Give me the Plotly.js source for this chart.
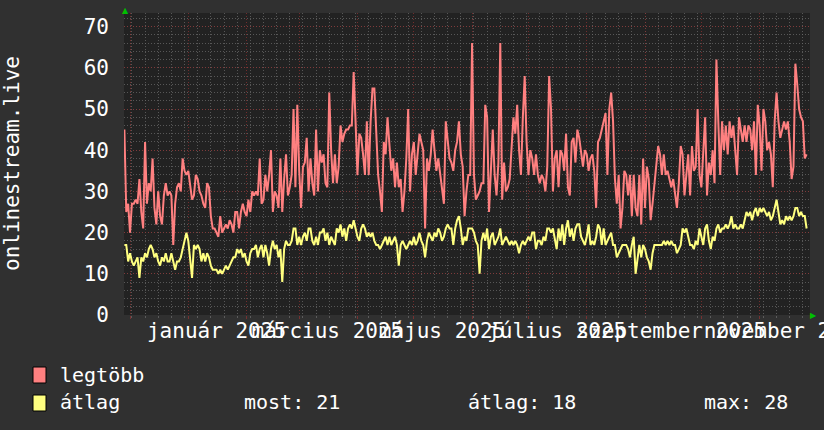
<!DOCTYPE html>
<html><head><meta charset="utf-8">
<script src="https://cdn.plot.ly/plotly-3.0.1.min.js"></script>
<style>html,body{margin:0;padding:0;background:#303030;}#chart{width:824px;height:430px;}</style>
</head><body><div id="chart"></div>
<script>
// ---- data ----
const startDate = '2024-11-28';
const legtobb = [
45,25,27,20,27,27,28,27, 33,25,21,42,27,32,30,38, 26,22,30,24,22,29,32,29, 30,29,17,27,31,32,30,38,
35,34,35,32,28,29,34,33, 30,29,27,26,32,31,24,21, 21,20,19,24,20,21,22,21, 23,22,20,25,25,21,25,27,
25,24,28,25,30,29,30,29, 38,27,28,34,30,34,40,25, 30,29,26,38,25,33,39,29, 31,34,50,31,51,35,26,36,
37,43,30,38,32,29,45,30, 40,37,39,32,31,54,40,32, 39,32,36,46,42,44,45,45, 46,46,59,47,34,44,43,39,
34,47,34,47,55,55,42,34, 30,25,42,39,48,42,35,38, 31,37,31,33,25,30,38,50, 30,39,42,34,40,44,42,40,
21,38,35,39,45,40,35,38, 34,31,27,47,43,38,37,35, 40,42,47,39,36,24,30,34,
34,66,34,28,29,30,32,32, 51,48,25,35,45,34,29,37, 66,28,37,30,31,33,42,48, 44,51,40,34,48,58,42,34,
40,38,34,39,34,32,34,33, 30,36,58,50,30,38,40,31, 40,39,35,44,31,29,42,43, 37,45,43,39,36,40,39,35,
38,39,35,26,42,43,45,47, 49,34,50,54,47,33,27,34, 21,26,35,34,29,34,24,34, 26,24,34,22,38,26,36,33,
23,27,32,37,41,39,34,39, 34,35,33,31,33,29,26,32, 41,39,29,34,39,29,41,35, 36,50,34,31,39,48,29,37,
34,40,32,62,47,34,47,40, 46,39,47,43,46,40,34,48, 45,42,46,42,46,45,40,47, 34,51,46,35,50,47,40,42,
39,31,47,54,47,43,45,47, 45,47,42,33,36,61,56,50, 48,47,38,39
];
const atlag = [
17,17,13,15,13,12,13,14, 9,14,13,15,14,16,17,16, 14,15,13,12,14,13,15,13, 13,15,13,11,13,13,14,16,
18,20,18,13,9,17,16,17, 16,13,15,13,15,14,12,11, 11,11,10,11,10,11,12,11, 12,13,14,14,16,15,16,14,
15,13,12,15,16,16,17,14, 16,17,14,17,15,12,16,18, 16,17,14,16,8,16,18,17, 17,18,21,21,17,19,17,19,
20,18,21,21,18,17,19,17, 20,20,21,18,20,17,19,18, 17,21,20,22,19,21,18,21, 22,21,23,21,19,18,21,22,
21,19,20,19,20,18,17,17, 16,17,18,19,17,19,17,18, 19,17,12,17,18,17,16,17, 18,17,19,17,18,20,18,17,
14,18,20,19,18,20,19,21, 20,18,19,21,22,21,21,17, 21,23,24,21,17,19,18,21,
21,21,20,18,17,10,18,20, 18,21,16,19,20,17,18,19, 21,17,18,19,18,17,18,17, 18,17,15,17,18,17,18,19,
18,20,20,16,18,18,17,19, 18,21,21,20,21,18,16,21, 18,22,17,21,23,19,21,18, 21,22,22,19,18,17,19,22,
17,18,17,19,22,21,17,21, 17,18,19,20,17,17,14,15, 16,17,17,17,16,14,17,19, 10,14,17,14,17,16,14,13,
11,15,17,17,17,17,17,18, 17,18,17,18,17,17,15,16, 17,21,20,21,19,17,17,16, 18,17,21,19,17,21,22,18,
16,19,18,21,22,20,21,21, 22,21,22,24,21,22,21,21, 22,21,23,25,24,25,23,25, 26,24,26,25,26,25,24,25,
23,24,26,28,25,22,23,22, 24,23,24,23,24,26,26,24, 25,24,24,21
];
const seriesNames = ['legtöbb', 'átlag'];
const seriesColors = ['#ff8080', '#ffff80'];
const monthStarts = ['2024-12-01','2025-01-01','2025-02-01','2025-03-01','2025-04-01','2025-05-01',
  '2025-06-01','2025-07-01','2025-08-01','2025-09-01','2025-10-01','2025-11-01'];
const labelDates = ['2025-01-16','2025-03-16','2025-05-16','2025-07-16','2025-09-15','2025-11-15'];
const labelTexts = ['január 2025','március 2025','május 2025','július 2025','szeptember 2025','november 2025'];
const yTicks = [0,10,20,30,40,50,60,70];
const yTitle = 'onlinestream.live';
const statLabels = ['most', 'átlag', 'max'];
const statValues = [21, 18, 28];
const xRange = ['2024-11-27 19:00', '2025-11-27 19:00'];
const yRange = [0, 73.3];

// ---- build dates ----
function dayList(start, n) {
  const out = [];
  const t0 = Date.parse(start + 'T00:00:00Z');
  for (let i = 0; i < n; i++) out.push(new Date(t0 + i * 86400000).toISOString().slice(0, 10));
  return out;
}
const xDates = dayList(startDate, legtobb.length);

const FONT = 'DejaVu Sans Mono';
const traces = [
  {x: xDates, y: legtobb, name: seriesNames[0], type: 'scatter', mode: 'lines',
   line: {color: seriesColors[0], width: 2}, hoverinfo: 'skip'},
  {x: xDates, y: atlag, name: seriesNames[1], type: 'scatter', mode: 'lines',
   line: {color: seriesColors[1], width: 2}, hoverinfo: 'skip'},
  // helper (no visible marks) so the month-label axis is drawn
  {x: labelDates, y: labelDates.map(() => null), xaxis: 'x2', yaxis: 'y', type: 'scatter',
   mode: 'lines', showlegend: false, hoverinfo: 'skip', line: {width: 0}}
];

const pl = 124, pr = 810, pt = 13, pb = 315;
const pw = pr - pl, ph = pb - pt;
const px = v => (v - pl) / pw;
const py = v => (pb - v) / ph;

const annotations = [
  {xref: 'paper', yref: 'paper', x: px(58), y: py(375), xanchor: 'left', yanchor: 'middle',
   text: seriesNames[0], showarrow: false, font: {family: FONT, size: 20, color: '#ffffff'}},
  {xref: 'paper', yref: 'paper', x: px(58), y: py(402), xanchor: 'left', yanchor: 'middle',
   text: seriesNames[1], showarrow: false, font: {family: FONT, size: 20, color: '#ffffff'}},
  {xref: 'paper', yref: 'paper', x: px(12), y: 0.5, xanchor: 'center', yanchor: 'middle', textangle: -90,
   text: yTitle, showarrow: false, font: {family: FONT, size: 21, color: '#ffffff'}},
  {xref: 'paper', yref: 'paper', x: px(125.5), y: py(10), xanchor: 'center', yanchor: 'middle',
   text: '▲', showarrow: false, font: {family: 'DejaVu Sans', size: 8, color: '#00c000'}},
  {xref: 'paper', yref: 'paper', x: px(813), y: py(315.5), xanchor: 'center', yanchor: 'middle',
   text: '▶', showarrow: false, font: {family: 'DejaVu Sans', size: 8, color: '#00c000'}}
];
const statX = [242, 466, 702];
statLabels.forEach((l, i) => annotations.push({
  xref: 'paper', yref: 'paper', x: px(statX[i]), y: py(402), xanchor: 'left', yanchor: 'middle',
  text: l + ': ' + statValues[i], showarrow: false, font: {family: FONT, size: 20, color: '#ffffff'}
}));

const shapes = [
  {type: 'rect', xref: 'paper', yref: 'paper', x0: px(33), x1: px(46), y0: py(367), y1: py(383),
   fillcolor: seriesColors[0], line: {color: '#000000', width: 1}},
  {type: 'rect', xref: 'paper', yref: 'paper', x0: px(33), x1: px(46), y0: py(395), y1: py(411),
   fillcolor: seriesColors[1], line: {color: '#000000', width: 1}}
];

const majorGrid = 'rgba(140,50,50,0.75)';
const minorGrid = 'rgba(105,105,105,0.75)';

const layout = {
  width: 824, height: 430,
  margin: {l: pl, r: 824 - pr, t: pt, b: 430 - pb, pad: 0},
  paper_bgcolor: '#303030', plot_bgcolor: '#222222',
  showlegend: false,
  font: {family: FONT, color: '#ffffff'},
  xaxis: {
    type: 'date', range: xRange, tickmode: 'array', tickvals: monthStarts,
    ticktext: monthStarts.map(() => ''), showticklabels: false,
    showgrid: true, gridcolor: majorGrid, griddash: '1px,2px', gridwidth: 1,
    ticks: 'outside', ticklen: 3, tickcolor: majorGrid,
    zeroline: false, showline: false, fixedrange: true,
    minor: {tickmode: 'linear', tick0: '2024-12-02', dtick: 7 * 86400000, showgrid: true,
            gridcolor: minorGrid, griddash: '1px,2px', gridwidth: 1, ticks: 'outside', ticklen: 2, tickcolor: minorGrid}
  },
  xaxis2: {
    type: 'date', range: xRange, overlaying: 'x', anchor: 'y', side: 'bottom',
    tickmode: 'array', tickvals: labelDates, ticktext: labelTexts, tickangle: 0,
    ticklabeloverflow: 'allow', ticks: '', showgrid: false, zeroline: false, showline: false,
    ticklabelstandoff: 1, tickfont: {family: FONT, size: 21, color: '#ffffff'}, fixedrange: true
  },
  yaxis: {
    range: yRange, tickmode: 'array', tickvals: yTicks, ticktext: yTicks.map(String),
    showgrid: true, gridcolor: majorGrid, griddash: '1px,2px', gridwidth: 1,
    ticks: '', ticklabelstandoff: 14, tickfont: {family: FONT, size: 21, color: '#ffffff'},
    zeroline: false, showline: false, fixedrange: true,
    minor: {tickmode: 'linear', tick0: 0, dtick: 2, showgrid: true, gridcolor: minorGrid,
            griddash: '1px,2px', gridwidth: 1}
  },
  annotations: annotations,
  shapes: shapes
};

Plotly.newPlot('chart', traces, layout, {staticPlot: true, displayModeBar: false});
</script>
</body></html>
